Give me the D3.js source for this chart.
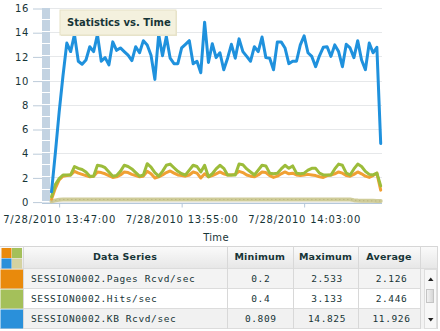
<!DOCTYPE html>
<html>
<head>
<meta charset="utf-8">
<script src="https://cdn.jsdelivr.net/npm/d3@7/dist/d3.min.js"></script>
<style>
  html, body { margin: 0; padding: 0; background: #fff; }
  svg { display: block; }
</style>
</head>
<body>
<svg id="chart" width="440" height="331"></svg>
<script>
// Sampling: one value every 15 seconds starting at 13:46:30
const startTime = new Date(2010, 6, 28, 13, 46, 30);
const sampleSeconds = 15;

const xTickTimes = [
  new Date(2010, 6, 28, 13, 47, 0),
  new Date(2010, 6, 28, 13, 55, 0),
  new Date(2010, 6, 28, 14, 3, 0)
];
const xTickLabels = ["7/28/2010 13:47:00", "7/28/2010 13:55:00", "7/28/2010 14:03:00"];
const yTicks = [0, 2, 4, 6, 8, 10, 12, 14, 16];

const pagesValues = [
  0.2, 1.1, 1.8, 2.1, 2.15, 2.2, 2.5, 2.35, 2.25, 2.15,
  2.05, 2.1, 2.45, 2.4, 2.3, 2.15, 2.0, 2.05, 2.2, 2.45,
  2.4, 2.25, 2.15, 2.05, 2.1, 2.5, 2.3, 1.95, 2.05, 2.2,
  2.4, 2.533, 2.35, 2.2, 2.15, 2.1, 2.2, 2.45, 2.35, 1.95,
  2.3, 2.05, 2.15, 2.3, 2.45, 2.3, 2.2, 2.2, 2.25, 2.5,
  2.4, 2.2, 2.1, 2.05, 2.2, 2.45, 2.4, 2.15, 2.0, 2.1,
  2.3, 2.45, 2.3, 2.35, 2.2, 2.15, 2.2, 2.25, 2.2, 2.15,
  2.05, 2.0, 2.15, 2.2, 2.3, 2.45, 2.35, 2.15, 2.1, 2.25,
  2.45, 2.3, 2.1, 2.0, 2.15, 2.35, 0.95
];

const hitsValues = [
  0.4, 1.4, 1.9, 2.2, 2.2, 2.2, 2.9, 2.75, 2.65, 2.45,
  2.1, 2.1, 3.0, 2.95, 2.8, 2.45, 2.1, 2.15, 2.5, 3.0,
  2.9, 2.7, 2.4, 2.1, 2.2, 3.133, 2.85, 2.4, 2.1, 2.5,
  3.0, 3.1, 2.8, 2.5, 2.3, 2.2, 2.6, 3.0, 2.9, 2.45,
  3.0, 2.05, 2.3, 2.7, 3.0, 2.75, 2.2, 2.2, 2.2, 3.1,
  3.05, 2.7, 2.45, 2.2, 2.6, 3.0, 2.95, 2.35, 2.3, 2.35,
  2.7, 3.0, 2.75, 2.95, 2.35, 2.3, 2.35, 2.6, 2.75, 2.75,
  2.35, 2.2, 2.2, 2.2, 2.7, 3.1, 3.0, 2.35, 2.2, 2.7,
  3.1, 2.9, 2.5, 2.25, 2.2, 2.35, 1.3
];

const kbValues = [
  0.809, 4.0, 7.4, 10.4, 13.1, 12.4, 13.8, 11.6, 11.35, 11.7,
  12.8, 12.4, 13.8, 11.6, 11.9, 11.3, 13.2, 12.5, 12.7, 12.4,
  12.1, 11.65, 12.8, 12.3, 13.3, 12.95, 12.1, 10.1, 13.8, 12.05,
  13.65, 11.85, 11.4, 11.4, 12.7, 13.0, 13.3, 11.4, 11.6, 10.65,
  14.825, 11.5, 13.05, 11.9, 12.3, 10.9, 11.85, 13.0, 11.85, 13.45,
  12.4, 12.0, 11.6, 12.8, 12.4, 13.6, 11.9, 11.85, 10.9, 13.2,
  13.2, 12.7, 11.4, 11.6, 11.6, 12.95, 13.7, 12.3, 12.0, 11.15,
  12.05, 12.75, 12.8, 12.0, 12.95, 12.4, 11.15, 13.0, 12.7, 11.9,
  13.3, 11.7, 10.9, 13.1, 12.3, 12.75, 4.8
];

const fourthValues = [
  0.02, 0.1, 0.15, 0.17, 0.17, 0.17, 0.17, 0.17, 0.17, 0.17,
  0.17, 0.17, 0.17, 0.17, 0.17, 0.17, 0.17, 0.17, 0.17, 0.17,
  0.17, 0.17, 0.17, 0.17, 0.17, 0.17, 0.17, 0.17, 0.17, 0.17,
  0.17, 0.17, 0.17, 0.17, 0.17, 0.17, 0.17, 0.17, 0.17, 0.17,
  0.17, 0.17, 0.17, 0.17, 0.17, 0.17, 0.17, 0.17, 0.17, 0.17,
  0.17, 0.17, 0.17, 0.17, 0.17, 0.17, 0.17, 0.17, 0.17, 0.17,
  0.17, 0.17, 0.17, 0.17, 0.17, 0.17, 0.17, 0.17, 0.17, 0.17,
  0.17, 0.17, 0.17, 0.17, 0.17, 0.17, 0.17, 0.17, 0.17, 0.12,
  0.09, 0.08, 0.07, 0.06, 0.06, 0.05, 0.05
];

// Summary table
const seriesNames = ["SESSION0002.Pages Rcvd/sec", "SESSION0002.Hits/sec", "SESSION0002.KB Rcvd/sec"];
const seriesMinimum = ["0.2", "0.4", "0.809"];
const seriesMaximum = ["2.533", "3.133", "14.825"];
const seriesAverage = ["2.126", "2.446", "11.926"];
const tableHeaders = ["Data Series", "Minimum", "Maximum", "Average"];

const colors = {
  pages: "#f0a034",
  hits: "#9cbc3a",
  kb: "#1f91dd",
  fourth: "#cfcc99",
  pagesSwatch: "#e98a0c",
  hitsSwatch: "#a4c05a",
  kbSwatch: "#2a90da",
  fourthSwatch: "#d4d2a0",
  text: "#173537"
};

const svg = d3.select("#chart");
const defs = svg.append("defs");

const hdrGrad = defs.append("linearGradient").attr("id", "hdrGrad")
  .attr("x1", 0).attr("y1", 0).attr("x2", 0).attr("y2", 1);
hdrGrad.append("stop").attr("offset", "0%").attr("stop-color", "#fbfbfb");
hdrGrad.append("stop").attr("offset", "100%").attr("stop-color", "#e6e6e6");

const thumbGrad = defs.append("linearGradient").attr("id", "thumbGrad")
  .attr("x1", 0).attr("y1", 0).attr("x2", 1).attr("y2", 0);
thumbGrad.append("stop").attr("offset", "0%").attr("stop-color", "#f4f4f4");
thumbGrad.append("stop").attr("offset", "100%").attr("stop-color", "#d4d4d4");

// ---------- scales ----------
const times = kbValues.map((_, i) => new Date(startTime.getTime() + i * sampleSeconds * 1000));
const x = d3.scaleTime()
  .domain([times[0], times[times.length - 1]])
  .range([51.5, 380.7]);
const y = d3.scaleLinear().domain([0, 16]).range([201.6, 8]);

const plotLeft = 50, plotRight = 382;

// ---------- grid ----------
svg.append("g").selectAll("line").data(yTicks).join("line")
  .attr("x1", plotLeft).attr("x2", plotRight)
  .attr("y1", d => Math.round(y(d)) + 0.5).attr("y2", d => Math.round(y(d)) + 0.5)
  .attr("stroke", "#e6e8ea").attr("stroke-width", 1);

// striped band beside the value axis
const band = svg.append("g");
band.append("rect")
  .attr("x", 42).attr("y", y(16)).attr("width", 8).attr("height", y(0) - y(16) + 1)
  .attr("fill", "#c3d3e2");
band.selectAll("line").data(d3.range(0, 17)).join("line")
  .attr("x1", 42).attr("x2", 50)
  .attr("y1", d => Math.round(y(d)) - 0.5).attr("y2", d => Math.round(y(d)) - 0.5)
  .attr("stroke", "#ffffff").attr("stroke-width", 1);

// y axis ticks and labels
const yAxis = d3.axisLeft(y).tickValues(yTicks).tickSize(9).tickPadding(4);
const yAxisG = svg.append("g").attr("transform", "translate(42,0.5)").call(yAxis);
yAxisG.select(".domain").remove();
yAxisG.selectAll(".tick line").attr("stroke", "#bccbd9");
yAxisG.selectAll(".tick text")
  .attr("fill", colors.text)
  .style("font-family", "'DejaVu Sans', Verdana, sans-serif")
  .style("font-size", "10px")
  .style("letter-spacing", "0.7px");

// x axis
const xAxis = d3.axisBottom(x).tickValues(xTickTimes)
  .tickFormat((d, i) => xTickLabels[i]).tickSize(4).tickPadding(8);
const xAxisG = svg.append("g").attr("transform", "translate(0,203.5)").call(xAxis);
xAxisG.select(".domain").attr("d", `M42,0H${plotRight}`).attr("stroke", "#b5c8da");
xAxisG.selectAll(".tick line").attr("stroke", "#b5c8da");
xAxisG.selectAll(".tick text")
  .attr("fill", colors.text)
  .style("font-family", "'DejaVu Sans', Verdana, sans-serif")
  .style("font-size", "10px")
  .style("letter-spacing", "0.75px");

svg.append("text")
  .attr("x", 216).attr("y", 241)
  .attr("text-anchor", "middle")
  .attr("fill", colors.text)
  .style("font-family", "'DejaVu Sans', Verdana, sans-serif")
  .style("font-size", "10px")
  .style("letter-spacing", "0.3px")
  .text("Time");

// ---------- series ----------
const line = d3.line().x((d, i) => x(times[i])).y(d => y(d));
const seriesList = [
  { values: fourthValues, color: colors.fourth, width: 4 },
  { values: pagesValues, color: colors.pages, width: 3 },
  { values: hitsValues, color: colors.hits, width: 3 },
  { values: kbValues, color: colors.kb, width: 3 }
];
svg.append("g").selectAll("path").data(seriesList).join("path")
  .attr("d", s => line(s.values))
  .attr("fill", "none")
  .attr("stroke", s => s.color)
  .attr("stroke-width", s => s.width)
  .attr("stroke-linejoin", "round")
  .attr("stroke-linecap", "round");

// dotted texture on the low series
svg.append("path")
  .attr("d", line(fourthValues))
  .attr("fill", "none")
  .attr("stroke", "#b3ae78")
  .attr("stroke-width", 1)
  .attr("stroke-dasharray", "1,3");

// ---------- title box ----------
const title = svg.append("g");
title.append("rect").attr("x", 61).attr("y", 11).attr("width", 116).attr("height", 25)
  .attr("fill", "#e9e5cd");
title.append("rect").attr("x", 60).attr("y", 10).attr("width", 116).attr("height", 25)
  .attr("fill", "#f4f1de").attr("stroke", "#e6e1c6").attr("stroke-width", 1);
title.append("text").attr("x", 67).attr("y", 26)
  .attr("fill", colors.text)
  .style("font-family", "'DejaVu Sans', Verdana, sans-serif")
  .style("font-size", "10px").style("font-weight", "bold")
  .text("Statistics vs. Time");

// ---------- summary table ----------
const colX = [0, 23, 226.5, 293, 358, 420, 437];
const headerTop = 246, headerH = 23, rowH = 20;
const table = svg.append("g");
const rowTop = i => headerTop + headerH + i * rowH;

table.append("rect").attr("x", 0).attr("y", headerTop).attr("width", colX[6]).attr("height", headerH)
  .attr("fill", "url(#hdrGrad)");
const rowFills = ["#f3f3f3", "#ffffff", "#f1f1f1"];
table.selectAll("rect.row").data(seriesNames).join("rect").attr("class", "row")
  .attr("x", colX[1]).attr("y", (d, i) => rowTop(i))
  .attr("width", colX[5] - colX[1]).attr("height", rowH)
  .attr("fill", (d, i) => rowFills[i]);

// row separators
table.selectAll("line.h").data([0, 1, 2, 3]).join("line").attr("class", "h")
  .attr("x1", 0).attr("x2", colX[6])
  .attr("y1", i => rowTop(i) - 0.5).attr("y2", i => rowTop(i) - 0.5)
  .attr("stroke", "#dcdcdc");
table.append("line").attr("x1", 0).attr("x2", colX[6])
  .attr("y1", headerTop + 0.5).attr("y2", headerTop + 0.5).attr("stroke", "#d6d6d6");
table.selectAll("line.v").data(colX.slice(1, 6)).join("line").attr("class", "v")
  .attr("x1", d => Math.round(d) + 0.5).attr("x2", d => Math.round(d) + 0.5)
  .attr("y1", headerTop).attr("y2", rowTop(3))
  .attr("stroke", "#d8d8d8");

// header icon: four series colours
const iconCells = [
  { c: colors.pagesSwatch, dx: 0, dy: 0 },
  { c: colors.hitsSwatch, dx: 1, dy: 0 },
  { c: colors.kbSwatch, dx: 0, dy: 1 },
  { c: colors.fourthSwatch, dx: 1, dy: 1 }
];
table.selectAll("rect.icon").data(iconCells).join("rect").attr("class", "icon")
  .attr("x", d => 1.5 + d.dx * 10.5).attr("y", d => headerTop + 2 + d.dy * 10.5)
  .attr("width", 10).attr("height", 10).attr("fill", d => d.c);

// row swatches
const swatches = [colors.pagesSwatch, colors.hitsSwatch, colors.kbSwatch];
table.selectAll("rect.sw").data(swatches).join("rect").attr("class", "sw")
  .attr("x", 0.5).attr("y", (d, i) => rowTop(i) + 0.5)
  .attr("width", 22.5).attr("height", rowH - 1).attr("fill", d => d);

// header text
const hdrCenters = [125, (colX[2] + colX[3]) / 2, (colX[3] + colX[4]) / 2, (colX[4] + colX[5]) / 2];
table.selectAll("text.hdr").data(tableHeaders).join("text").attr("class", "hdr")
  .attr("x", (d, i) => hdrCenters[i]).attr("y", headerTop + 13.5)
  .attr("text-anchor", "middle")
  .attr("fill", colors.text)
  .style("font-family", "'DejaVu Sans', Verdana, sans-serif")
  .style("font-size", "9.5px").style("font-weight", "bold")
  .style("letter-spacing", "0.2px")
  .text(d => d);

const monoStyle = sel => sel
  .attr("fill", colors.text)
  .style("font-family", "'DejaVu Sans Mono', 'Liberation Mono', monospace")
  .style("font-size", "9.5px")
  .style("letter-spacing", "0.6px");

table.selectAll("text.name").data(seriesNames).join("text").attr("class", "name")
  .attr("x", 31).attr("y", (d, i) => rowTop(i) + 13.2)
  .call(monoStyle).text(d => d);

const numberCols = [
  { vals: seriesMinimum, cx: (colX[2] + colX[3]) / 2 + 1 },
  { vals: seriesMaximum, cx: (colX[3] + colX[4]) / 2 + 1.5 },
  { vals: seriesAverage, cx: (colX[4] + colX[5]) / 2 + 2.5 }
];
numberCols.forEach(col => {
  table.append("g").selectAll("text").data(col.vals).join("text")
    .attr("x", col.cx).attr("y", (d, i) => rowTop(i) + 13.2)
    .attr("text-anchor", "middle")
    .call(monoStyle).text(d => d);
});

// scroll bar column
const sb = table.append("g");
sb.append("rect").attr("x", colX[5] + 1).attr("y", rowTop(0)).attr("width", colX[6] - colX[5] - 1)
  .attr("height", rowH * 3).attr("fill", "#f3f3f3");
sb.append("rect").attr("x", 424.5).attr("y", rowTop(0) + 0.5).attr("width", 12).attr("height", rowH * 3 - 1)
  .attr("fill", "#f7f7f7").attr("stroke", "#dedede");
sb.append("path").attr("d", "M428,281 L433.5,281 L430.75,277.5 Z").attr("fill", "#222");
sb.append("path").attr("d", "M428,318 L433.5,318 L430.75,321.5 Z").attr("fill", "#222");
sb.append("rect").attr("x", 426.5).attr("y", 289.5).attr("width", 7).attr("height", 13)
  .attr("fill", "url(#thumbGrad)").attr("stroke", "#c4c4c4");
table.append("line").attr("x1", colX[6] + 0.5).attr("x2", colX[6] + 0.5)
  .attr("y1", headerTop).attr("y2", rowTop(3)).attr("stroke", "#d8d8d8");
</script>
</body>
</html>
